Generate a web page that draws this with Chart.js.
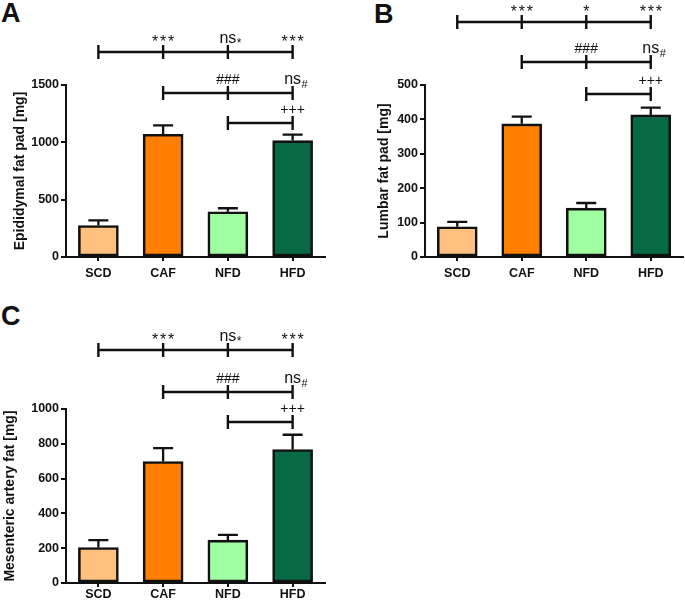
<!DOCTYPE html>
<html>
<head>
<meta charset="utf-8">
<script src="https://cdn.jsdelivr.net/npm/chart.js@4/dist/chart.umd.min.js"></script>
<style>
    body { margin: 0; background: #fff; width: 685px; height: 602px; position: relative; overflow: hidden; }
    canvas { position: absolute; }
    .letra { position: absolute; font: bold 27px "Liberation Sans", Arial, sans-serif; line-height: 27px; color: #111; }
</style>
</head>
<body>
<div class="letra" style="left:1px;top:0px">A</div>
<div class="letra" style="left:374px;top:1px">B</div>
<div class="letra" style="left:1px;top:303px">C</div>
<canvas id="grafico-a" width="340" height="300" style="left:0;top:0"></canvas>
<canvas id="grafico-b" width="345" height="300" style="left:340px;top:0"></canvas>
<canvas id="grafico-c" width="340" height="302" style="left:0;top:300px"></canvas>
<script>
const $ = id => document.getElementById(id);

const grupos = ["SCD", "CAF", "NFD", "HFD"];
const cores = ["#ffc080", "#ff8000", "#a0ffa0", "#086a45"];

const epididimal = [275, 1070, 395, 1015];
const epididimalErro = [45, 78, 30, 52];

const lombar = [88, 387, 142, 413];
const lombarErro = [14, 21, 15, 21];

const mesenterica = [204, 698, 246, 767];
const mesentericaErro = [42, 77, 31, 85];

const ticksA = [0, 500, 1000, 1500];
const ticksB = [0, 100, 200, 300, 400, 500];
const ticksC = [0, 200, 400, 600, 800, 1000];

// comparações: pontos (índices dos grupos) e rótulos em cada ponto ("ns|*" = ns com subscrito)
const comparacoesA = [
    { pontos: [0, 1, 2, 3], rotulos: ["", "***", "ns|*", "***"] },
    { pontos: [1, 2, 3], rotulos: ["", "###", "ns|#"] },
    { pontos: [2, 3], rotulos: ["", "+++"] }
];
const comparacoesB = [
    { pontos: [0, 1, 2, 3], rotulos: ["", "***", "*", "***"] },
    { pontos: [1, 2, 3], rotulos: ["", "###", "ns|#"] },
    { pontos: [2, 3], rotulos: ["", "+++"] }
];
const comparacoesC = comparacoesA;

const PRETO = "#111";
const FONTE = "'Liberation Sans', Arial, sans-serif";

const barrasErro = {
    id: "barrasErro",
    afterDatasetsDraw(chart, args, opts) {
        const { ctx, scales: { x, y } } = chart;
        const valores = chart.data.datasets[0].data;
        ctx.save();
        ctx.strokeStyle = PRETO;
        ctx.lineWidth = 2.3;
        opts.erros.forEach((e, i) => {
            const cx = x.getPixelForValue(i);
            const y0 = y.getPixelForValue(valores[i]);
            const y1 = y.getPixelForValue(valores[i] + e);
            ctx.beginPath();
            ctx.moveTo(cx, y0);
            ctx.lineTo(cx, y1);
            ctx.moveTo(cx - 10, y1);
            ctx.lineTo(cx + 10, y1);
            ctx.stroke();
        });
        ctx.restore();
    }
};

function escreverRotulo(ctx, texto, px, base) {
    const [principal, sub] = texto.split("|");
    ctx.fillStyle = PRETO;
    ctx.textBaseline = "alphabetic";
    ctx.textAlign = "center";
    if (/^\*+$/.test(principal)) {
        const n = principal.length;
        ctx.font = `16px ${FONTE}`;
        for (let k = 0; k < n; k++) {
            ctx.fillText("*", px + (k - (n - 1) / 2) * 8, base + 4.5);
        }
        return;
    }
    ctx.font = principal === "ns" ? `16px ${FONTE}` : `14px ${FONTE}`;
    ctx.fillText(principal, px, base);
    if (sub) {
        const w = ctx.measureText(principal).width;
        ctx.font = `${sub === "*" ? 12 : 11}px ${FONTE}`;
        ctx.textAlign = "left";
        ctx.fillText(sub, px + w / 2 + 0.5, base + (sub === "*" ? 4.6 : 4));
    }
}

const chaves = {
    id: "chaves",
    afterDraw(chart, args, opts) {
        const { ctx, scales: { x, y } } = chart;
        ctx.save();
        ctx.strokeStyle = PRETO;
        ctx.lineWidth = 2.4;
        opts.lista.forEach((c, i) => {
            const py = Math.round(y.getPixelForValue(opts.niveis[i]));
            const xs = c.pontos.map(p => x.getPixelForValue(p));
            ctx.beginPath();
            ctx.moveTo(xs[0], py);
            ctx.lineTo(xs[xs.length - 1], py);
            xs.forEach(px => {
                ctx.moveTo(px, py - 7);
                ctx.lineTo(px, py + 7);
            });
            ctx.stroke();
            c.rotulos.forEach((r, k) => {
                if (r) escreverRotulo(ctx, r, xs[k], py - 9.5);
            });
        });
        ctx.restore();
    }
};

function criarPainel(id, valores, erros, ticks, titulo, comparacoes, niveis, medidas) {
    new Chart($(id), {
        type: "bar",
        data: {
            labels: grupos,
            datasets: [{
                data: valores,
                backgroundColor: cores,
                borderColor: PRETO,
                borderWidth: 2.6,
                borderSkipped: false,
                barThickness: 40
            }]
        },
        options: {
            responsive: false,
            animation: false,
            layout: { padding: medidas.padding },
            plugins: {
                legend: { display: false },
                tooltip: { enabled: false },
                barrasErro: { erros },
                chaves: { lista: comparacoes, niveis }
            },
            scales: {
                x: {
                    grid: { display: true, drawOnChartArea: false, offset: false, tickLength: 4, color: PRETO, lineWidth: 2 },
                    border: { color: PRETO, width: 2 },
                    ticks: { color: PRETO, font: { family: FONTE, weight: "bold", size: 12.5 }, padding: medidas.xPad },
                    afterFit: s => { s.height = medidas.xAltura; }
                },
                y: {
                    min: ticks[0],
                    max: ticks[ticks.length - 1],
                    afterBuildTicks: s => { s.ticks = ticks.map(v => ({ value: v })); },
                    grid: { drawOnChartArea: false, tickLength: 5, color: PRETO, lineWidth: 2 },
                    border: { color: PRETO, width: 2 },
                    ticks: {
                        color: PRETO,
                        font: { family: FONTE, weight: "bold", size: 12.5 },
                        padding: 2,
                        callback: v => String(v)
                    },
                    title: {
                        display: true,
                        text: titulo,
                        color: PRETO,
                        font: { family: FONTE, weight: "bold", size: 14 },
                        padding: { top: medidas.tituloPad, bottom: 0 }
                    },
                    afterFit: s => { s.width = medidas.yLargura; }
                }
            }
        },
        plugins: [barrasErro, chaves]
    });
}

window.onload = () => {
    criarPainel("grafico-a", epididimal, epididimalErro, ticksA, "Epididymal fat pad [mg]",
        comparacoesA, [1790, 1433, 1171],
        { padding: { left: 8, top: 85, right: 15, bottom: 0 }, yLargura: 58, xAltura: 43, xPad: 5, tituloPad: 4 });

    criarPainel("grafico-b", lombar, lombarErro, ticksB, "Lumbar fat pad [mg]",
        comparacoesB, [684, 568, 473],
        { padding: { left: 32, top: 85, right: 2, bottom: 0 }, yLargura: 53, xAltura: 43, xPad: 5, tituloPad: 4 });

    criarPainel("grafico-c", mesenterica, mesentericaErro, ticksC, "Mesenteric artery fat [mg]",
        comparacoesC, [1337, 1100, 923],
        { padding: { left: 0, top: 109, right: 15, bottom: 0 }, yLargura: 66, xAltura: 19, xPad: 0, tituloPad: 2 });
};
</script>
</body>
</html>
